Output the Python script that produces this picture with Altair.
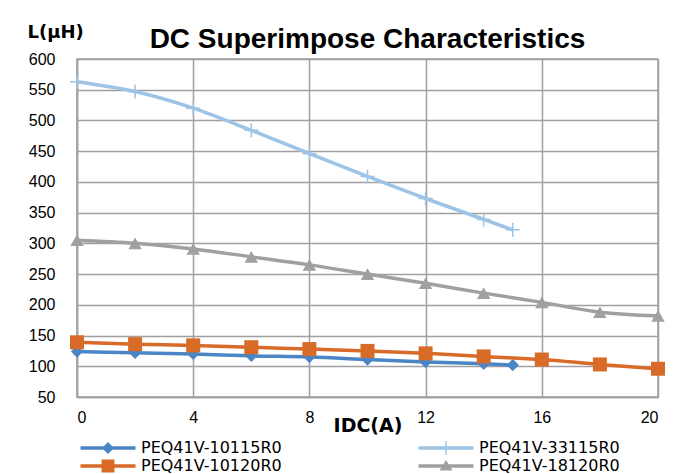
import altair as alt
import pandas as pd

series_names = ["PEQ41V-10115R0", "PEQ41V-33115R0", "PEQ41V-10120R0", "PEQ41V-18120R0"]
colors = ["#4A86C6", "#9DC3E6", "#D86B28", "#A0A0A0"]

x_short = [0, 2, 4, 6, 8, 10, 12, 14, 15]
x_long = [0, 2, 4, 6, 8, 10, 12, 14, 16, 18, 20]

l_10115 = [124, 122, 120, 117, 115, 111, 107, 104, 102]
l_33115 = [563, 547, 520, 484, 446, 409, 373, 339, 322]
l_10120 = [139, 136, 134, 131, 128, 125, 121, 116, 111, 103, 96]
l_18120 = [305, 300, 291, 278, 265, 250, 235, 219, 204, 188, 182]

x_ticks = [0, 4, 8, 12, 16, 20]
y_ticks = [50, 100, 150, 200, 250, 300, 350, 400, 450, 500, 550, 600]

rows = []
for name, xs, ys in [
    (series_names[0], x_short, l_10115),
    (series_names[1], x_short, l_33115),
    (series_names[2], x_long, l_10120),
    (series_names[3], x_long, l_18120),
]:
    for xv, yv in zip(xs, ys):
        rows.append({"series": name, "I": xv, "L": yv})
df = pd.DataFrame(rows)

# legend symbols: line segment + marker (custom paths, unit = sqrt(size)/2 = 8px)
line_part = "M-3.44,-0.22H3.44V0.22H-3.44Z"
legend_paths = [
    line_part + " M0,-0.75L0.75,0L0,0.75L-0.75,0Z",
    line_part + " M-0.09,-0.875H0.09V0.875H-0.09Z",
    line_part + " M-0.81,-0.81H0.81V0.81H-0.81Z",
    line_part + " M0,-0.75L0.81,0.56L-0.81,0.56Z",
]

xenc = alt.X("I:Q", scale=alt.Scale(domain=[0, 20], nice=False),
             axis=alt.Axis(values=x_ticks, title="IDC(A)"))
yenc = alt.Y("L:Q", scale=alt.Scale(domain=[50, 600], nice=False),
             axis=alt.Axis(values=y_ticks, title="L(μH)"))

base = alt.Chart(df)

marker_specs = [
    dict(shape="diamond", filled=True, size=150),
    dict(shape="M-1,0H1M0,-1V1", filled=False, size=196, strokeWidth=1.5),
    dict(shape="square", filled=True, size=196),
    dict(shape="triangle-up", filled=True, size=180),
]
layers = []
for name, col, spec in zip(series_names, colors, marker_specs):
    sub = base.transform_filter(alt.datum.series == name)
    layers.append(
        sub.mark_line(strokeWidth=3.5, interpolate="monotone", color=col)
        .encode(x=xenc, y=yenc)
    )
    layers.append(
        sub.mark_point(opacity=1, color=col, **spec).encode(x=xenc, y=yenc)
    )

legend_layer = base.transform_filter("false").mark_point(
    filled=True, opacity=1, size=256
).encode(
    x=xenc, y=yenc,
    color=alt.Color("series:N", scale=alt.Scale(domain=series_names, range=colors), title=None),
    shape=alt.Shape("series:N", scale=alt.Scale(domain=series_names, range=legend_paths), title=None),
)
layers.append(legend_layer)

chart = alt.layer(*layers).properties(
    width=581,
    height=338,
    title=alt.TitleParams("DC Superimpose Characteristics", dy=42),
    autosize=alt.AutoSizeParams(type="none"),
    padding={"left": 69, "top": 51, "right": 32, "bottom": 80},
).configure_view(
    stroke="#A0A0A0", strokeWidth=1.5
).configure_axis(
    grid=True, gridColor="#A0A0A0", gridWidth=1.5,
    domainColor="#A0A0A0", domainWidth=1.5,
    ticks=False, tickSize=0,
    labelFont="Liberation Sans", labelFontSize=16, labelColor="#000000",
    titleFont="DejaVu Sans", titleFontWeight="bold", titleColor="#000000",
).configure_axisX(
    labelPadding=12, titleFontSize=19, titleY=28, titleBaseline="middle",
).configure_axisY(
    labelPadding=22, titleFontSize=18, titleAngle=0, titleX=-50, titleY=-27,
    titleAlign="left", titleBaseline="middle",
).configure_title(
    font="Liberation Sans", fontSize=28, fontWeight="bold", color="#000000",
    anchor="middle", offset=11,
).configure_legend(
    orient="none", legendX=22, legendY=380, columns=2, direction="horizontal",
    symbolSize=256, symbolOffset=0, labelOffset=24,
    labelFont="DejaVu Sans", labelFontSize=16, labelColor="#000000",
    columnPadding=136, rowPadding=1, padding=0,
)

chart.save("out.html", embed_options={"renderer": "svg", "actions": False})
